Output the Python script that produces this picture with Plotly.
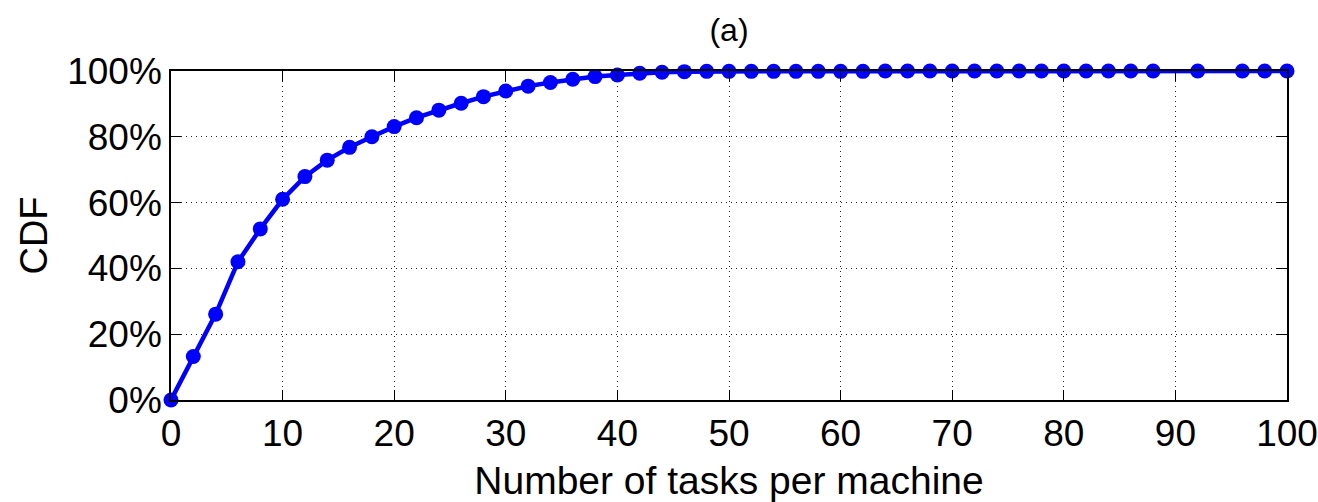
import plotly.graph_objects as go

tasks = list(range(0, 90, 2)) + [92, 96, 98, 100]
cdf_pct = [0.0, 13.2, 26.1, 42.0, 52.0, 61.0, 67.9, 72.9, 76.8, 80.0,
           83.1, 85.8, 88.1, 90.2, 92.2, 93.9, 95.4, 96.5, 97.5, 98.3,
           98.8, 99.3, 99.6, 99.8, 99.9, 99.9, 99.9, 99.9, 99.9, 99.9,
           99.9, 99.9, 100, 100, 100, 100, 100, 100, 100, 100,
           100, 100, 100, 100, 100, 100, 100, 100, 100]
x_ticks = list(range(0, 101, 10))
y_ticks = list(range(0, 101, 20))
y_tick_labels = [f"{v}%" for v in y_ticks]

fig = go.Figure()
fig.add_trace(go.Scatter(
    x=tasks, y=cdf_pct, mode="lines+markers",
    line=dict(color="#0000FF", width=4.5),
    marker=dict(symbol="circle", size=15, color="#0000FF"),
    cliponaxis=False, showlegend=False,
))

font_family = "Liberation Sans, Arial, Helvetica, sans-serif"
axis_common = dict(
    showline=True, linecolor="black", linewidth=1.5, mirror="ticks",
    ticks="inside", ticklen=10, tickcolor="black", tickwidth=1,
    showgrid=True, gridcolor="#222222", griddash="1px,4px", gridwidth=1.3,
    zeroline=False, automargin=False,
    tickfont=dict(family=font_family, size=37, color="black"),
)

fig.update_layout(
    width=1318, height=502,
    margin=dict(l=171, r=31, t=71, b=102),
    paper_bgcolor="white", plot_bgcolor="white",
    title=dict(text="(a)", x=0.5, xref="paper", y=1 - 30 / 502, yref="container",
               xanchor="center", yanchor="middle",
               font=dict(family=font_family, size=32, color="black")),
    xaxis=dict(range=[0, 100], tickvals=x_ticks,
               title=dict(text="Number of tasks per machine", standoff=19,
                          font=dict(family=font_family, size=39, color="black")),
               **axis_common),
    yaxis=dict(range=[0, 100], tickvals=y_ticks, ticktext=y_tick_labels,
               ticksuffix=" ",
               title=dict(text="CDF", standoff=8,
                          font=dict(family=font_family, size=38, color="black")),
               **axis_common),
)

fig.write_html(
    "out.html",
    config={"displayModeBar": False},
    post_script="document.body.style.margin='0';document.body.style.overflow='hidden';",
)
